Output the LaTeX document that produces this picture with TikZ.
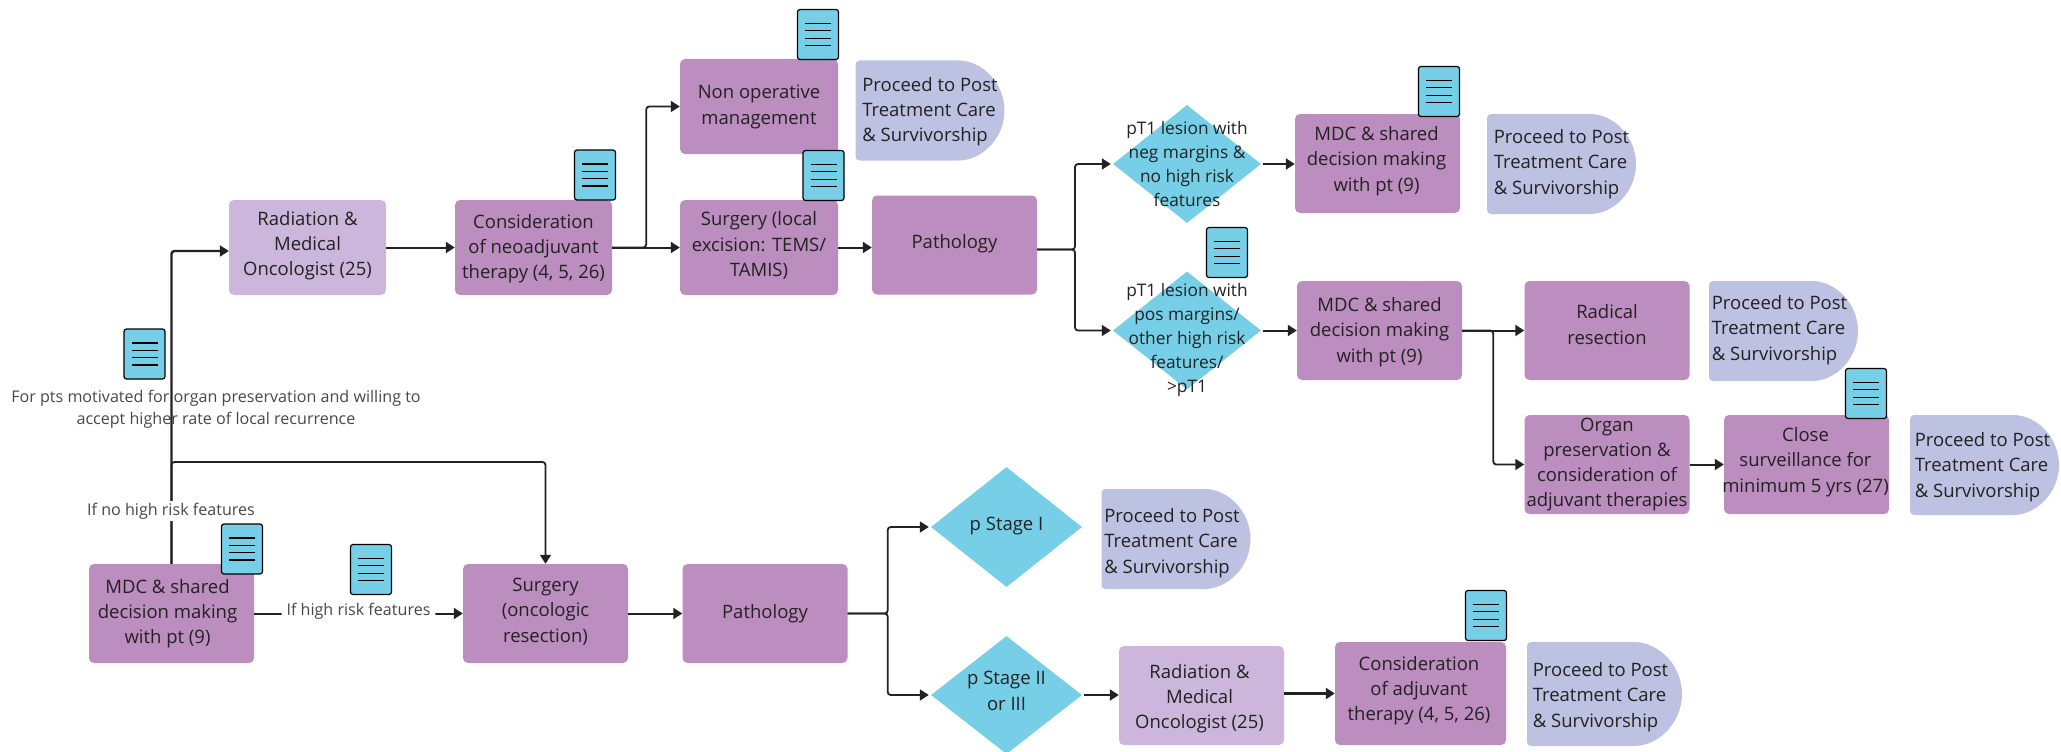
\documentclass[tikz,border=0pt]{standalone}
\usepackage{fontspec}
\setmainfont{Open Sans}
\usetikzlibrary{arrows.meta,shapes.geometric,shapes.misc,calc}
\definecolor{plum}{HTML}{BC8DBF}
\definecolor{lilac}{HTML}{CDB6DB}
\definecolor{peri}{HTML}{BEC2E2}
\definecolor{sky}{HTML}{76CFE6}
\definecolor{ink}{HTML}{222222}
\tikzset{
  x=1pt,y=-1pt,
  boxbase/.style={rounded corners=5pt,minimum width=#1,inner sep=0pt},
  plumbox/.style={boxbase=165,fill=plum,minimum height=99},
  lilacbox/.style={boxbase=157,fill=lilac,minimum height=95},
  boxtext/.style={align=center,text=ink,inner sep=0pt,font=\fontsize{18.5}{25.3}\selectfont},
  termbox/.style={fill=peri,rounded rectangle,rounded rectangle west arc=none,rounded corners=4pt,minimum width=149,minimum height=100,inner sep=0pt},
  termtext/.style={align=left,text=ink,font=\fontsize{18.5}{25.3}\selectfont,inner sep=0pt},
  dia/.style={diamond,fill=sky,inner sep=0pt,minimum width=148,minimum height=118},
  diatext/.style={align=center,text=ink,inner sep=0pt,font=\fontsize{17.3}{24}\selectfont},
  docicon/.style={draw=black,line width=1.2pt,fill=sky,rounded corners=2.5pt,minimum width=41,minimum height=50,inner sep=0pt,
    path picture={
      \foreach \k in {-11,-3.67,3.67,11}
        \draw[black,line width=1.3pt] ($(path picture bounding box.center)+(-13,\k)$) -- ($(path picture bounding box.center)+(13,\k)$);
    }},
  arr/.style={draw=ink,line width=2pt,rounded corners=3pt,-{Triangle[length=9pt,width=11pt]}},
  branch/.style={arr,line width=1.8pt},
  lbl/.style={align=center,text=black!72,inner sep=0pt,font=\fontsize{16.1}{22}\selectfont},
}
% \tbox{box style}{name}{centre}{text offset}{text}
\newcommand{\tbox}[5]{%
  \node[#1] (#2) at (#3) {};
  \node[boxtext] (#2t) at ($(#2.center)+(#4)$) {#5};
}
\newcommand{\termnode}[3]{%
  \node[termbox] (#1) at (#2) {};
  \node[termtext] (#1t) at ($(#1.center)+(#3)$) {Proceed to Post\\Treatment Care\\\& Survivorship};
}
\begin{document}
\begin{tikzpicture}
\useasboundingbox (0,0) rectangle (2061,752);
% boxes
\tbox{lilacbox}{rad}{307.5,247.5}{0,-2}{Radiation \&\\Medical\\Oncologist (25)}
\tbox{plumbox,minimum width=157,minimum height=95}{cons}{533.5,247.5}{0,1}{Consideration\\of neoadjuvant\\therapy (4, 5, 26)}
\tbox{plumbox,minimum width=158,minimum height=95}{nonop}{759,106.5}{0,0.5}{Non operative\\management}
\tbox{plumbox,minimum width=158,minimum height=95}{surg}{759,247.5}{0,-2}{Surgery (local\\excision: TEMS/\\TAMIS)}
\tbox{plumbox}{path1}{954.5,245}{0,-1}{Pathology}
\node[dia] (d1) at (1187,164) {};
\node[dia] (d2) at (1187,330.5) {};
\tbox{plumbox}{mdc1}{1377.5,163.5}{-1,-2.5}{MDC \& shared\\decision making\\with pt (9)}
\tbox{plumbox}{mdc2}{1379.5,330.5}{0,1.5}{MDC \& shared\\decision making\\with pt (9)}
\tbox{plumbox}{radical}{1607,330.5}{0,-6}{Radical\\resection}
\tbox{plumbox}{organ}{1607,464.5}{0,0}{Organ\\preservation \&\\consideration of\\adjuvant therapies}
\tbox{plumbox}{close}{1806.5,464.5}{-1,-2.5}{Close\\surveillance for\\minimum 5 yrs (27)}
\tbox{plumbox}{mdc3}{171.5,613.5}{-4,0}{MDC \& shared\\decision making\\with pt (9)}
\tbox{plumbox}{surg2}{545.5,613.5}{0,-2}{Surgery\\(oncologic\\resection)}
\tbox{plumbox}{path2}{765,613.5}{0,0}{Pathology}
\node[dia,minimum width=151,minimum height=120] (d3) at (1006.5,527) {};
\node[dia,minimum width=151,minimum height=118] (d4) at (1006.5,695) {};
\tbox{lilacbox,minimum width=165,minimum height=99}{rad2}{1201.5,695.5}{-2,3}{Radiation \&\\Medical\\Oncologist (25)}
\tbox{plumbox,minimum width=171,minimum height=103}{cons2}{1420.5,693.5}{-1.5,-3}{Consideration\\of adjuvant\\therapy (4, 5, 26)}
% terminals
\termnode{t1}{930,110.5}{0,1}
\termnode{t2}{1561.5,164}{0,0}
\termnode{t3}{1783.5,331}{-4,-1}
\termnode{t4}{1984.5,465}{-2,2}
\termnode{t5}{1176,539}{-4,4}
\node[termbox,minimum width=155,minimum height=104] (t6) at (1604.5,694) {};
\node[termtext] (t6t) at ($(t6.center)+(-4,3)$) {Proceed to Post\\Treatment Care\\\& Survivorship};
% connectors
\coordinate (turn) at (171.5,462);
\coordinate (j1) at (1075,249.5);
\draw[arr] (rad.east) -- (cons.west);
\draw[arr] (cons.east) -- (surg.west);
\draw[branch] (cons.east) -- ++(34,0) |- (nonop.west);
\draw[arr] (surg.east) -- (surg.east -| path1.west);
\draw[branch,shorten >=2pt] (path1.east |- j1) -- (j1) |- (d1.west);
\draw[branch,shorten >=2pt] (path1.east |- j1) -- (j1) |- (d2.west);
\draw[arr,shorten <=2pt] (d1.east) -- (d1.east -| mdc1.west);
\draw[arr,shorten <=2pt] (d2.east) -- (d2.east -| mdc2.west);
\draw[arr] (mdc2.east) -- (radical.west);
\draw[branch] (mdc2.east) -- ++(31,0) |- (organ.west);
\draw[arr] (organ.east) -- (close.west);
\draw[branch,line width=2.4pt] (mdc3.north) |- ($(rad.west)+(0,3.5)$);
\draw[branch] (mdc3.north) -- (turn) -| (surg2.north);
\draw[arr] (mdc3.east) -- node[lbl,fill=white,inner xsep=5pt,yshift=2pt] (lhigh) {If high risk features} (surg2.west);
\draw[arr] (surg2.east) -- (path2.west);
\draw[branch,shorten >=2pt] (path2.east) -- ++(40,0) |- (d3.west);
\draw[branch,shorten >=2pt] (path2.east) -- ++(40,0) |- (d4.west);
\draw[arr,shorten <=2pt] (d4.east) -- (d4.east -| rad2.west);
\draw[arr,line width=2.4pt] (rad2.east |- cons2.west) -- (cons2.west);
% diamond text
\node[diatext] (d1t) at (d1.center) {pT1 lesion with\\neg margins \&\\no high risk\\features};
\node[diatext] (d2t) at (1187,340) {pT1 lesion with\\pos margins/\\other high risk\\features/\\>pT1};
\node[diatext,font=\fontsize{18.5}{25.3}\selectfont] (d3t) at (1006.5,526) {p Stage I};
\node[diatext,font=\fontsize{18.5}{25.3}\selectfont] (d4t) at (1006.5,691) {p Stage II\\or III};
% labels
\node[lbl] (lpres) at (216,409) {For pts motivated for organ preservation and willing to\\accept higher rate of local recurrence};
\node[lbl,fill=white,inner ysep=2pt] (lno) at (171,511) {If no high risk features};
% document icons
\node[docicon] (i1) at (818,34.5) {};
\node[docicon] (i2) at (595,175) {};
\node[docicon] (i3) at (823.5,175.5) {};
\node[docicon] (i4) at (144.5,354) {};
\node[docicon] (i5) at (1439,91.5) {};
\node[docicon] (i6) at (1227,252.5) {};
\node[docicon] (i7) at (1866,393.5) {};
\node[docicon] (i8) at (242,549) {};
\node[docicon] (i9) at (371,569.5) {};
\node[docicon] (i10) at (1486,615.5) {};
\end{tikzpicture}
\end{document}
